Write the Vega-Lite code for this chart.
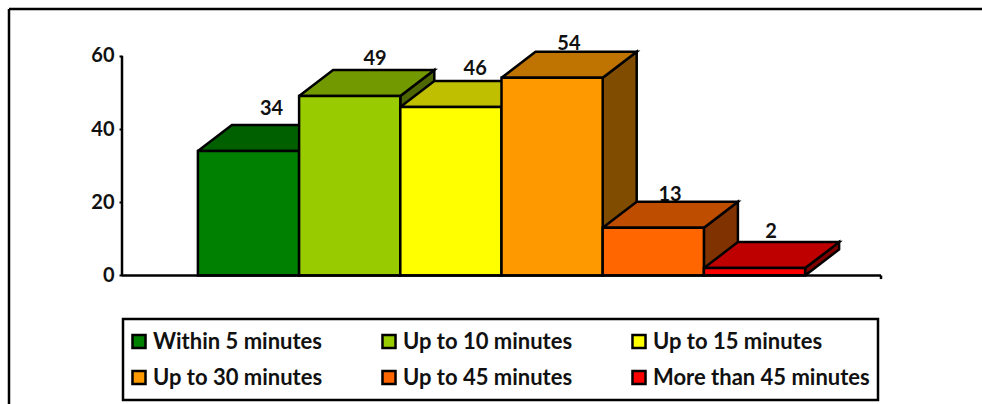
{
  "$schema": "https://vega.github.io/schema/vega-lite/v6.json",
  "width": 973,
  "height": 400,
  "autosize": "none",
  "padding": {"left": 9, "top": 9, "right": 0, "bottom": 0},
  "background": "white",
  "view": {"stroke": null},
  "config": {"font": "Lato", "legend": {"strokeColor": "black", "strokeWidth": 2.5}},
  "datasets": {
    "bars": [
      {"group": "Within 5 minutes", "start": 0.75, "end": 1.75, "base": 0, "value": 34},
      {"group": "Up to 10 minutes", "start": 1.75, "end": 2.75, "base": 0, "value": 49},
      {"group": "Up to 15 minutes", "start": 2.75, "end": 3.75, "base": 0, "value": 46},
      {"group": "Up to 30 minutes", "start": 3.75, "end": 4.75, "base": 0, "value": 54},
      {"group": "Up to 45 minutes", "start": 4.75, "end": 5.75, "base": 0, "value": 13},
      {"group": "More than 45 minutes", "start": 5.75, "end": 6.75, "base": 0, "value": 2}
    ],
    "valueLabels": [
      {"value": 34, "slot": 1.478, "level": 45.6},
      {"value": 49, "slot": 2.5, "level": 59.1},
      {"value": 46, "slot": 3.49, "level": 56.4},
      {"value": 54, "slot": 4.416, "level": 63.2},
      {"value": 13, "slot": 5.415, "level": 22},
      {"value": 2, "slot": 6.414, "level": 11.9}
    ],
    "faces": [
      {"face": "a1 side", "shade": "green side", "corner": 1, "slot": 1.75, "level": 0},
      {"face": "a1 side", "shade": "green side", "corner": 2, "slot": 2.086, "level": 7.1},
      {"face": "a1 side", "shade": "green side", "corner": 3, "slot": 2.086, "level": 41.1},
      {"face": "a1 side", "shade": "green side", "corner": 4, "slot": 1.75, "level": 34},
      {"face": "a1 side", "shade": "green side", "corner": 5, "slot": 1.75, "level": 0},
      {"face": "a2 top", "shade": "green top", "corner": 1, "slot": 0.75, "level": 34},
      {"face": "a2 top", "shade": "green top", "corner": 2, "slot": 1.086, "level": 41.1},
      {"face": "a2 top", "shade": "green top", "corner": 3, "slot": 2.086, "level": 41.1},
      {"face": "a2 top", "shade": "green top", "corner": 4, "slot": 1.75, "level": 34},
      {"face": "a2 top", "shade": "green top", "corner": 5, "slot": 0.75, "level": 34},
      {"face": "b1 side", "shade": "lime side", "corner": 1, "slot": 2.75, "level": 0},
      {"face": "b1 side", "shade": "lime side", "corner": 2, "slot": 3.086, "level": 7.1},
      {"face": "b1 side", "shade": "lime side", "corner": 3, "slot": 3.086, "level": 56.1},
      {"face": "b1 side", "shade": "lime side", "corner": 4, "slot": 2.75, "level": 49},
      {"face": "b1 side", "shade": "lime side", "corner": 5, "slot": 2.75, "level": 0},
      {"face": "b2 top", "shade": "lime top", "corner": 1, "slot": 1.75, "level": 49},
      {"face": "b2 top", "shade": "lime top", "corner": 2, "slot": 2.086, "level": 56.1},
      {"face": "b2 top", "shade": "lime top", "corner": 3, "slot": 3.086, "level": 56.1},
      {"face": "b2 top", "shade": "lime top", "corner": 4, "slot": 2.75, "level": 49},
      {"face": "b2 top", "shade": "lime top", "corner": 5, "slot": 1.75, "level": 49},
      {"face": "c1 side", "shade": "yellow side", "corner": 1, "slot": 3.75, "level": 0},
      {"face": "c1 side", "shade": "yellow side", "corner": 2, "slot": 4.086, "level": 7.1},
      {"face": "c1 side", "shade": "yellow side", "corner": 3, "slot": 4.086, "level": 53.1},
      {"face": "c1 side", "shade": "yellow side", "corner": 4, "slot": 3.75, "level": 46},
      {"face": "c1 side", "shade": "yellow side", "corner": 5, "slot": 3.75, "level": 0},
      {"face": "c2 top", "shade": "yellow top", "corner": 1, "slot": 2.75, "level": 46},
      {"face": "c2 top", "shade": "yellow top", "corner": 2, "slot": 3.086, "level": 53.1},
      {"face": "c2 top", "shade": "yellow top", "corner": 3, "slot": 4.086, "level": 53.1},
      {"face": "c2 top", "shade": "yellow top", "corner": 4, "slot": 3.75, "level": 46},
      {"face": "c2 top", "shade": "yellow top", "corner": 5, "slot": 2.75, "level": 46},
      {"face": "d1 side", "shade": "orange side", "corner": 1, "slot": 4.75, "level": 0},
      {"face": "d1 side", "shade": "orange side", "corner": 2, "slot": 5.086, "level": 7.1},
      {"face": "d1 side", "shade": "orange side", "corner": 3, "slot": 5.086, "level": 61.1},
      {"face": "d1 side", "shade": "orange side", "corner": 4, "slot": 4.75, "level": 54},
      {"face": "d1 side", "shade": "orange side", "corner": 5, "slot": 4.75, "level": 0},
      {"face": "d2 top", "shade": "orange top", "corner": 1, "slot": 3.75, "level": 54},
      {"face": "d2 top", "shade": "orange top", "corner": 2, "slot": 4.086, "level": 61.1},
      {"face": "d2 top", "shade": "orange top", "corner": 3, "slot": 5.086, "level": 61.1},
      {"face": "d2 top", "shade": "orange top", "corner": 4, "slot": 4.75, "level": 54},
      {"face": "d2 top", "shade": "orange top", "corner": 5, "slot": 3.75, "level": 54},
      {"face": "e1 side", "shade": "amber side", "corner": 1, "slot": 5.75, "level": 0},
      {"face": "e1 side", "shade": "amber side", "corner": 2, "slot": 6.086, "level": 7.1},
      {"face": "e1 side", "shade": "amber side", "corner": 3, "slot": 6.086, "level": 20.1},
      {"face": "e1 side", "shade": "amber side", "corner": 4, "slot": 5.75, "level": 13},
      {"face": "e1 side", "shade": "amber side", "corner": 5, "slot": 5.75, "level": 0},
      {"face": "e2 top", "shade": "amber top", "corner": 1, "slot": 4.75, "level": 13},
      {"face": "e2 top", "shade": "amber top", "corner": 2, "slot": 5.086, "level": 20.1},
      {"face": "e2 top", "shade": "amber top", "corner": 3, "slot": 6.086, "level": 20.1},
      {"face": "e2 top", "shade": "amber top", "corner": 4, "slot": 5.75, "level": 13},
      {"face": "e2 top", "shade": "amber top", "corner": 5, "slot": 4.75, "level": 13},
      {"face": "f1 side", "shade": "red side", "corner": 1, "slot": 6.75, "level": 0},
      {"face": "f1 side", "shade": "red side", "corner": 2, "slot": 7.086, "level": 7.1},
      {"face": "f1 side", "shade": "red side", "corner": 3, "slot": 7.086, "level": 9.1},
      {"face": "f1 side", "shade": "red side", "corner": 4, "slot": 6.75, "level": 2},
      {"face": "f1 side", "shade": "red side", "corner": 5, "slot": 6.75, "level": 0},
      {"face": "f2 top", "shade": "red top", "corner": 1, "slot": 5.75, "level": 2},
      {"face": "f2 top", "shade": "red top", "corner": 2, "slot": 6.086, "level": 9.1},
      {"face": "f2 top", "shade": "red top", "corner": 3, "slot": 7.086, "level": 9.1},
      {"face": "f2 top", "shade": "red top", "corner": 4, "slot": 6.75, "level": 2},
      {"face": "f2 top", "shade": "red top", "corner": 5, "slot": 5.75, "level": 2}
    ],
    "frameLines": [
      {"slotFrom": -1.1166, "slotTo": 8.498, "levelFrom": 72.8, "levelTo": 72.8},
      {"slotFrom": -1.1166, "slotTo": -1.1166, "levelFrom": 72.8, "levelTo": -36.5},
      {"slotFrom": 0, "slotTo": 0, "levelFrom": 0, "levelTo": 60},
      {"slotFrom": 0, "slotTo": 7.5, "levelFrom": 0, "levelTo": 0},
      {"slotFrom": 7.5, "slotTo": 7.5, "levelFrom": 0, "levelTo": -1}
    ]
  },
  "layer": [
    {
      "data": {"name": "valueLabels"},
      "mark": {"type": "text", "font": "Lato", "fontWeight": "bold", "fontSize": 20, "color": "#111111", "baseline": "middle"},
      "encoding": {
        "x": {"field": "slot", "type": "quantitative", "scale": {"domain": [-1.1166, 8.498], "nice": false, "zero": false}, "axis": null},
        "y": {
          "field": "level",
          "type": "quantitative",
          "scale": {"domain": [-36.5, 72.8], "nice": false, "zero": false},
          "axis": {
            "values": [0, 20, 40, 60],
            "offset": -113,
            "title": null,
            "grid": false,
            "domain": false,
            "tickSize": 3,
            "tickWidth": 2,
            "tickColor": "black",
            "labelPadding": 5,
            "labelFont": "Lato",
            "labelFontWeight": "bold",
            "labelFontSize": 20,
            "labelColor": "#111111"
          }
        },
        "text": {"field": "value", "type": "quantitative"}
      }
    },
    {
      "data": {"name": "faces"},
      "mark": {"type": "line", "stroke": "black", "strokeWidth": 2.5, "strokeJoin": "miter"},
      "encoding": {
        "x": {"field": "slot", "type": "quantitative"},
        "y": {"field": "level", "type": "quantitative"},
        "detail": {"field": "face", "type": "nominal"},
        "order": {"field": "corner", "type": "quantitative"},
        "fill": {
          "field": "shade",
          "type": "nominal",
          "legend": null,
          "scale": {
            "domain": ["green top", "green side", "lime top", "lime side", "yellow top", "yellow side", "orange top", "orange side", "amber top", "amber side", "red top", "red side"],
            "range": ["#006000", "#004000", "#739900", "#4D6600", "#BFBF00", "#808000", "#BF7300", "#804D00", "#BF4D00", "#803300", "#BF0000", "#800000"]
          }
        }
      }
    },
    {
      "data": {"name": "bars"},
      "mark": {"type": "bar", "stroke": "black", "strokeWidth": 2.5},
      "encoding": {
        "x": {"field": "start", "type": "quantitative"},
        "x2": {"field": "end"},
        "y": {"field": "value", "type": "quantitative", "stack": null},
        "y2": {"field": "base"},
        "fill": {
          "field": "group",
          "type": "nominal",
          "sort": null,
          "scale": {
            "domain": ["Within 5 minutes", "Up to 10 minutes", "Up to 15 minutes", "Up to 30 minutes", "Up to 45 minutes", "More than 45 minutes"],
            "range": ["#008000", "#99CC00", "#FFFF00", "#FF9900", "#FF6600", "#FF0000"]
          },
          "legend": {
            "orient": "none",
            "direction": "horizontal",
            "legendX": 114,
            "legendY": 310,
            "columns": 3,
            "title": null,
            "gridAlign": "all",
            "columnPadding": 11,
            "rowPadding": 7,
            "padding": 8,
            "clipHeight": 29,
            "fillColor": "white",
            "symbolType": "square",
            "symbolSize": 170,
            "symbolOffset": -3,
            "symbolStrokeColor": "black",
            "symbolStrokeWidth": 2.5,
            "labelOffset": 3,
            "labelFont": "Lato",
            "labelFontWeight": "bold",
            "labelFontSize": 22,
            "labelColor": "#111111",
            "labelLimit": 300
          }
        }
      }
    },
    {
      "data": {"name": "frameLines"},
      "mark": {"type": "rule", "stroke": "black", "strokeWidth": 2.5},
      "encoding": {
        "x": {"field": "slotFrom", "type": "quantitative"},
        "x2": {"field": "slotTo"},
        "y": {"field": "levelFrom", "type": "quantitative"},
        "y2": {"field": "levelTo"}
      }
    }
  ],
  "resolve": {"scale": {"fill": "independent"}}
}
